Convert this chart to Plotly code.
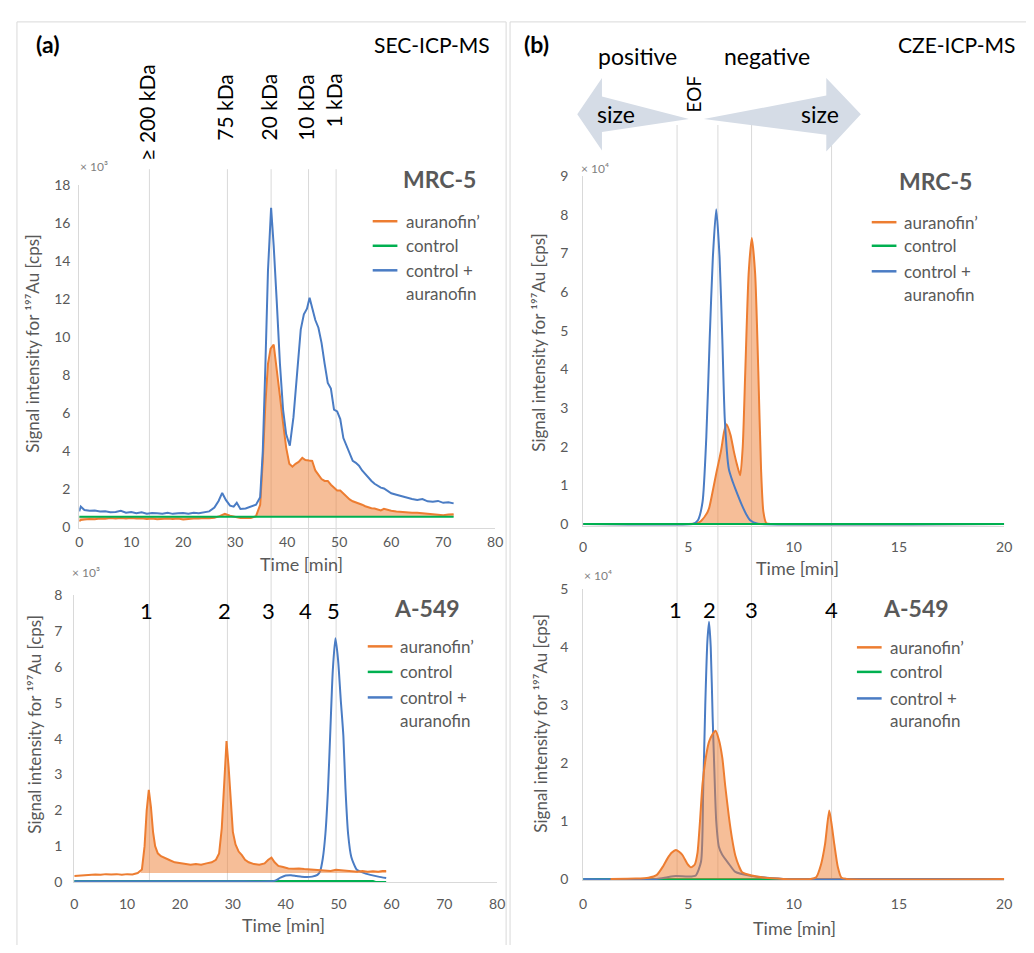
import plotly.graph_objects as go

# page body has an 8px margin; size the figure so the page fits the 1034x953 window
W, H = 1034, 953
FW, FH = W - 16, H - 16
def X(px): return (px - 8) / FW
def Y(py): return 1 - (py - 8) / FH

ORANGE = "#ED7D31"
FILL = "rgba(237,125,49,0.5)"
GREEN = "#00B050"
BLUE = "#4A7CC4"
GRAY = "#595959"
LINEGRAY = "#D9D9D9"
FONT = "Lato"

# ---------------- (a) SEC-ICP-MS, MRC-5 (x10^3 cps) ----------------
sec_mrc5_blue_t = [0, 0.3, 1, 2, 3, 4, 5, 6, 7, 8,
                   9, 10, 11, 12, 13, 14, 15, 16, 17, 18,
                   19, 20, 21, 22, 23, 24, 25, 26, 26.8, 27.5,
                   28.2, 29, 29.7, 30.3, 31, 32, 33, 34, 34.8, 35.3,
                   35.8, 36.3, 36.9, 37.4, 38, 38.6, 39.2, 39.8, 40.5, 41.2,
                   41.9, 42.6, 43.2, 43.8, 44.3, 44.8, 45.4, 46, 46.6, 47.2,
                   47.8, 48.4, 49, 49.6, 50.2, 50.8, 51.4, 52, 52.6, 53.2,
                   53.8, 54.4, 55, 55.6, 56.2, 56.8, 57.4, 58, 58.6, 59.2,
                   60, 61, 62, 63, 64, 65, 66, 67, 68, 69,
                   70, 71, 72]
sec_mrc5_blue_v = [0.85, 1.1, 0.92, 0.88, 0.9, 0.84, 0.86, 0.8, 0.82, 0.88,
                   0.78, 0.82, 0.75, 0.8, 0.73, 0.77, 0.75, 0.73, 0.78, 0.72,
                   0.75, 0.77, 0.73, 0.78, 0.75, 0.82, 0.85, 1.05, 1.4, 1.82,
                   1.45, 1.15, 1.1, 1.3, 0.98, 1.0, 1.1, 1.2, 1.6, 4.0,
                   8.5, 13.5, 16.8, 14.8, 11.8, 8.6, 6.2, 4.9, 4.3, 5.8,
                   8.1, 10.4, 11.2, 11.5, 12.07, 11.6, 10.9, 10.5, 9.7, 8.6,
                   7.6, 7.3, 6.2, 6.1, 5.7, 4.7, 4.3, 3.9, 3.5, 3.4,
                   3.25, 3.0, 2.8, 2.6, 2.45, 2.3, 2.2, 2.1, 2.05, 1.95,
                   1.8, 1.72, 1.65, 1.55, 1.5, 1.45, 1.5, 1.38, 1.36, 1.4,
                   1.3, 1.33, 1.27]

sec_mrc5_orange_t = [0, 0.3, 1, 2, 3, 4, 5, 6, 7, 8,
                     9, 10, 11, 12, 13, 14, 15, 16, 17, 18,
                     19, 20, 21, 22, 23, 24, 25, 26, 27, 28,
                     29, 30, 31, 32, 33, 34, 34.8, 35.3, 35.8, 36.3,
                     36.8, 37.4, 38, 38.6, 39.2, 39.8, 40.4, 41, 41.6, 42.2,
                     42.9, 43.5, 44.2, 44.8, 45.4, 46, 46.6, 47.2, 47.8, 48.4,
                     49, 49.6, 50.2, 50.8, 51.4, 52, 52.6, 53.2, 53.8, 54.4,
                     55, 55.6, 56.2, 56.8, 57.4, 58, 58.6, 59.2, 60, 61,
                     62, 63, 64, 65, 66, 67, 68, 69, 70, 71,
                     72]
sec_mrc5_orange_v = [0.33, 0.4, 0.42, 0.45, 0.44, 0.47, 0.46, 0.5, 0.47, 0.5,
                     0.48, 0.5, 0.47, 0.49, 0.45, 0.48, 0.44, 0.47, 0.48, 0.45,
                     0.47, 0.42, 0.46, 0.48, 0.47, 0.5, 0.49, 0.52, 0.6, 0.72,
                     0.62, 0.55, 0.5, 0.52, 0.5, 0.6, 1.2, 3.5, 6.5, 8.6,
                     9.4, 9.61, 8.4, 6.9, 5.5, 4.2, 3.35, 3.2, 3.35, 3.45,
                     3.66, 3.55, 3.52, 3.5, 3.0, 2.75, 2.55, 2.45, 2.45, 2.25,
                     2.1, 1.95, 1.95, 1.8, 1.6, 1.48, 1.38, 1.32, 1.3, 1.2,
                     1.12, 1.05, 1.02, 1.0, 0.95, 0.9, 0.98, 0.92, 0.88, 0.85,
                     0.82, 0.8, 0.78, 0.78, 0.75, 0.72, 0.68, 0.66, 0.65, 0.68,
                     0.7]

sec_mrc5_green_t = [0, 24, 48, 72]
sec_mrc5_green_v = [0.57, 0.57, 0.57, 0.57]

# ---------------- (a) SEC-ICP-MS, A-549 (x10^3 cps) ----------------
sec_a549_orange_t = [0, 1, 2, 3, 4, 5, 6, 7, 8, 9,
                     10, 11, 12, 12.8, 13.3, 13.7, 14.1, 14.5, 14.9, 15.3,
                     15.8, 16.4, 17, 17.6, 18.2, 19, 20, 21, 22, 23,
                     24, 25, 26, 26.8, 27.4, 27.9, 28.4, 28.8, 29.2, 29.6,
                     30, 30.5, 31.1, 31.7, 32.3, 33, 34, 35, 36, 36.7,
                     37.3, 37.9, 38.6, 39.5, 40.5, 41.5, 42.5, 43.5, 44.5, 45.5,
                     46.5, 47.5, 48.5, 49.5, 50.5, 51.5, 52.5, 53.5, 54.5, 55.5,
                     56.5, 57.5, 58.3, 59]
sec_a549_orange_v = [0.17, 0.18, 0.2, 0.19, 0.21, 0.2, 0.22, 0.21, 0.22, 0.2,
                     0.22, 0.21, 0.25, 0.35, 1.0, 2.0, 2.57, 2.1, 1.4, 1.0,
                     0.8, 0.72, 0.68, 0.62, 0.6, 0.55, 0.52, 0.5, 0.48, 0.5,
                     0.48, 0.52, 0.55, 0.62, 0.8, 1.5, 2.8, 3.93, 3.2, 2.2,
                     1.4, 1.05, 0.85, 0.75, 0.62, 0.55, 0.5, 0.48, 0.52, 0.62,
                     0.68, 0.55, 0.45, 0.42, 0.38, 0.37, 0.38, 0.36, 0.35, 0.33,
                     0.32, 0.33, 0.31, 0.34, 0.33, 0.3, 0.3, 0.29, 0.31, 0.29,
                     0.3, 0.29, 0.31, 0.31]
sec_a549_baseline_t = [12.5, 59]
sec_a549_baseline_v = [0.25, 0.25]

sec_a549_blue_t = [0, 10, 20, 30, 37, 38, 39, 40, 41, 42,
                   43, 44, 45, 46, 46.5, 47, 47.5, 48, 48.4, 48.9,
                   49.4, 49.9, 50.4, 50.9, 51.3, 51.8, 52.4, 53.4, 54.5, 56,
                   57.5, 59]
sec_a549_blue_v = [0.02, 0.02, 0.02, 0.02, 0.02, 0.04, 0.12, 0.18, 0.19, 0.17,
                   0.15, 0.14, 0.15, 0.2, 0.3, 0.65, 1.34, 2.6, 4.08, 5.9,
                   6.8, 6.2, 5.1, 4.08, 2.6, 1.34, 0.7, 0.35, 0.27, 0.2,
                   0.15, 0.11]

sec_a549_green_t = [0, 28, 56.5, 57, 59]
sec_a549_green_v = [0.03, 0.03, 0.03, 0.0, 0.0]

# ---------------- (b) CZE-ICP-MS, MRC-5 (x10^4 cps) ----------------
cze_mrc5_orange_t = [0, 5.0, 5.4, 5.6, 5.9, 6.0, 6.3, 6.55, 6.7, 6.81,
                     7.0, 7.15, 7.3, 7.46, 7.58, 7.7, 7.86, 8.01, 8.17, 8.32,
                     8.45, 8.56, 8.7, 9.0, 20]
cze_mrc5_orange_v = [0, 0, 0.02, 0.08, 0.3, 0.45, 1.25, 1.9, 2.4, 2.58,
                     2.3, 1.9, 1.55, 1.26, 2.0, 3.94, 6.47, 7.40, 6.47, 3.94,
                     1.42, 0.32, 0.02, 0, 0]
cze_mrc5_blue_t = [0, 5.2, 5.45, 5.67, 5.85, 6.01, 6.16, 6.32, 6.48, 6.61,
                   6.73, 6.92, 7.1, 7.23, 7.54, 7.75, 7.93, 8.3, 20]
cze_mrc5_blue_v = [0, 0, 0.1, 0.57, 2.26, 4.79, 6.89, 8.14, 6.89, 4.79,
                   2.68, 1.42, 1.1, 0.91, 0.49, 0.25, 0.1, 0.01, 0]
cze_mrc5_green_t = [0, 10, 20]
cze_mrc5_green_v = [0, 0, 0]

# ---------------- (b) CZE-ICP-MS, A-549 (x10^4 cps) ----------------
cze_a549_orange_t = [1.3, 2.5, 3.1, 3.5, 3.8, 4.0, 4.2, 4.41, 4.7, 4.95,
                     5.12, 5.3, 5.43, 5.55, 5.67, 5.85, 5.98, 6.15, 6.29, 6.45,
                     6.61, 6.75, 6.92, 7.07, 7.23, 7.4, 7.54, 8.0, 8.5, 9.0,
                     9.5, 10.8, 11.07, 11.3, 11.49, 11.69, 11.82, 11.93, 12.1, 12.27,
                     12.5, 20]
cze_a549_orange_v = [0, 0.005, 0.02, 0.07, 0.22, 0.35, 0.45, 0.50, 0.42, 0.26,
                     0.2, 0.25, 0.45, 1.0, 1.64, 2.15, 2.37, 2.5, 2.56, 2.4,
                     2.09, 1.6, 1.08, 0.7, 0.40, 0.22, 0.12, 0.06, 0.03, 0.01,
                     0, 0, 0.03, 0.25, 0.6, 1.18, 0.9, 0.6, 0.2, 0.02,
                     0, 0]
cze_a549_blue_t = [0, 3.5, 4.0, 4.41, 5.0, 5.35, 5.6, 5.7, 5.8, 5.9,
                   5.98, 6.06, 6.15, 6.23, 6.32, 6.45, 6.6, 6.92, 7.23, 8.0,
                   9.0, 9.5, 20]
cze_a549_blue_v = [0, 0, 0.03, 0.05, 0.04, 0.06, 0.3, 1.5, 3.0, 4.1,
                   4.44, 4.0, 2.8, 1.9, 1.0, 0.55, 0.42, 0.26, 0.12, 0.05,
                   0.01, 0, 0]
cze_a549_green_t = [0, 10, 20]
cze_a549_green_v = [0, 0, 0]

# marker positions (vertical guide lines)
sec_marker_t = [13.5, 28.5, 36.9, 44.1, 49.4]
sec_marker_labels = ["\u2265 200 kDa", "75 kDa", "20 kDa", "10 kDa", "1 kDa"]
sec_peak_labels = ["1", "2", "3", "4", "5"]
cze_marker_t = [4.46, 6.4, 8.0, 11.8]
cze_peak_labels = ["1", "2", "3", "4"]

legend_names = ["auranofin\u2019", "control", "control +", "auranofin"]
legend_colors = [ORANGE, GREEN, BLUE]

for lst in [(sec_mrc5_blue_t, sec_mrc5_blue_v), (sec_mrc5_orange_t, sec_mrc5_orange_v),
            (sec_a549_orange_t, sec_a549_orange_v), (sec_a549_blue_t, sec_a549_blue_v),
            (cze_mrc5_orange_t, cze_mrc5_orange_v), (cze_mrc5_blue_t, cze_mrc5_blue_v),
            (cze_a549_orange_t, cze_a549_orange_v), (cze_a549_blue_t, cze_a549_blue_v)]:
    assert len(lst[0]) == len(lst[1]), (len(lst[0]), len(lst[1]))

fig = go.Figure()

def line(x, y, color, xa, ya, **kw):
    return go.Scatter(x=x, y=y, mode="lines", line=dict(color=color, width=2, **kw.pop("lk", {})),
                      xaxis=xa, yaxis=ya, showlegend=False, hoverinfo="skip", **kw)

SPL = dict(shape="spline", smoothing=0.6)

# (a) MRC-5
fig.add_trace(go.Scatter(x=sec_mrc5_green_t, y=sec_mrc5_green_v, mode="lines", line=dict(width=0),
                         xaxis="x", yaxis="y", showlegend=False, hoverinfo="skip"))
fig.add_trace(line(sec_mrc5_orange_t, sec_mrc5_orange_v, ORANGE, "x", "y", fill="tonexty", fillcolor=FILL))
fig.add_trace(line(sec_mrc5_green_t, sec_mrc5_green_v, GREEN, "x", "y"))
fig.add_trace(line(sec_mrc5_blue_t, sec_mrc5_blue_v, BLUE, "x", "y"))

# (a) A-549
fig.add_trace(line(sec_a549_green_t, sec_a549_green_v, GREEN, "x2", "y2"))
fig.add_trace(line(sec_a549_blue_t, sec_a549_blue_v, BLUE, "x2", "y2", lk=SPL))
fig.add_trace(go.Scatter(x=sec_a549_baseline_t, y=sec_a549_baseline_v, mode="lines", line=dict(width=0),
                         xaxis="x2", yaxis="y2", showlegend=False, hoverinfo="skip"))
fill_t = [t for t in sec_a549_orange_t if t >= sec_a549_baseline_t[0]]
fill_v = [v for t, v in zip(sec_a549_orange_t, sec_a549_orange_v) if t >= sec_a549_baseline_t[0]]
fig.add_trace(go.Scatter(x=fill_t, y=fill_v, mode="lines", line=dict(width=0), fill="tonexty",
                         fillcolor=FILL, xaxis="x2", yaxis="y2", showlegend=False, hoverinfo="skip"))
fig.add_trace(line(sec_a549_orange_t, sec_a549_orange_v, ORANGE, "x2", "y2"))

# (b) MRC-5
fig.add_trace(line(cze_mrc5_orange_t, cze_mrc5_orange_v, ORANGE, "x3", "y3", fill="tozeroy",
                   fillcolor=FILL, lk=SPL))
fig.add_trace(line(cze_mrc5_blue_t, cze_mrc5_blue_v, BLUE, "x3", "y3", lk=SPL))
fig.add_trace(line(cze_mrc5_green_t, cze_mrc5_green_v, GREEN, "x3", "y3"))

# (b) A-549
fig.add_trace(line(cze_a549_green_t, cze_a549_green_v, GREEN, "x4", "y4"))
fig.add_trace(line(cze_a549_blue_t, cze_a549_blue_v, BLUE, "x4", "y4", lk=SPL))
fig.add_trace(line(cze_a549_orange_t, cze_a549_orange_v, ORANGE, "x4", "y4", fill="tozeroy",
                   fillcolor=FILL, lk=SPL))

def ax(dom, rng, dtick, anchor, standoff):
    return dict(domain=dom, range=rng, dtick=dtick, anchor=anchor, showline=True, linecolor=LINEGRAY,
                linewidth=1, showgrid=False, zeroline=False, ticks="", ticklabelstandoff=standoff,
                tickfont=dict(family=FONT, size=14, color=GRAY), fixedrange=True)

fig.update_layout(
    width=FW, height=FH, margin=dict(l=0, r=0, t=0, b=0),
    paper_bgcolor="white", plot_bgcolor="rgba(0,0,0,0)", showlegend=False,
    font=dict(family=FONT, color=GRAY),
    xaxis=ax([X(76), X(497)], [0, 80], 10, "y", 2),
    yaxis=ax([Y(528), Y(179)], [0, 18], 2, "x", 5),
    xaxis2=ax([X(71), X(499)], [0, 80], 10, "y2", 9),
    yaxis2=ax([Y(889), Y(597)], [0, 8], 1, "x2", 8),
    xaxis3=ax([X(586), X(1012)], [0, 20], 5, "y3", 9),
    yaxis3=ax([Y(526), Y(170)], [-0.04, 9], 1, "x3", 11),
    xaxis4=ax([X(586), X(1012)], [0, 20], 5, "y4", 11),
    yaxis4=ax([Y(887), Y(591)], [-0.02, 5], 1, "x4", 11),
)

shapes = []
# panel frames
shapes.append(dict(type="rect", xref="paper", yref="paper", x0=X(13), x1=X(508), y0=Y(990), y1=Y(13),
                   line=dict(color=LINEGRAY, width=1), layer="below"))
shapes.append(dict(type="rect", xref="paper", yref="paper", x0=X(512), x1=X(1060), y0=Y(990), y1=Y(13),
                   line=dict(color=LINEGRAY, width=1), layer="below"))
# vertical guide lines
for t in sec_marker_t:
    shapes.append(dict(type="line", xref="x", yref="paper", x0=t, x1=t, y0=Y(889), y1=Y(163),
                       line=dict(color=LINEGRAY, width=1), layer="below"))
for t in cze_marker_t:
    shapes.append(dict(type="line", xref="x3", yref="paper", x0=t, x1=t, y0=Y(887), y1=Y(118),
                       line=dict(color=LINEGRAY, width=1), layer="below"))

def poly(pts):
    return "M " + " L ".join(f"{X(a):.5f},{Y(b):.5f}" for a, b in pts) + " Z"

ARROW = "#D5DCE6"
shapes.append(dict(type="path", xref="paper", yref="paper", layer="below", fillcolor=ARROW,
                   line=dict(width=0),
                   path=poly([(580, 107), (605, 70), (605, 89), (693, 112), (605, 125), (605, 144)])))
shapes.append(dict(type="path", xref="paper", yref="paper", layer="below", fillcolor=ARROW,
                   line=dict(width=0),
                   path=poly([(708, 112), (832, 88), (832, 70), (867, 107), (832, 145), (832, 128)])))

ann = []
def txt(text, px, py, size, color="black", bold=False, angle=0, xanchor="center", yanchor="middle",
        xref="paper", x=None, xshift=0):
    if bold:
        text = f"<b>{text}</b>"
    ann.append(dict(text=text, xref=xref, yref="paper", x=X(px) if x is None else x, y=Y(py),
                    showarrow=False, textangle=angle, xanchor=xanchor, yanchor=yanchor, xshift=xshift,
                    font=dict(family=FONT, size=size, color=color)))

txt("(a)", 44, 36, 23, bold=True)
txt("SEC-ICP-MS", 494, 36, 21, xanchor="right")
txt("(b)", 539, 36, 23, bold=True)
txt("CZE-ICP-MS", 1025, 36, 21, xanchor="right")

# kDa labels
kda_centers = [105, 100, 100, 100, 93]
for t, lab, cy in zip(sec_marker_t, sec_marker_labels, kda_centers):
    txt(lab, 0, cy, 21, angle=-90, xref="x", x=t, xshift=-3)
# peak numbers
for t, lab in zip(sec_marker_t, sec_peak_labels):
    txt(lab, 0, 612, 22, xref="x", x=t, xshift=-3)
cze_shifts = [-2, -8, 0, 0]
for t, lab, s in zip(cze_marker_t, cze_peak_labels, cze_shifts):
    txt(lab, 0, 611, 22, xref="x3", x=t, xshift=s)

txt("positive", 641, 48, 23)
txt("negative", 772, 48, 23)
txt("size", 619, 107, 23)
txt("size", 826, 107, 23)
txt("EOF", 698, 86, 19, angle=-90)

txt("MRC-5", 441, 173, 23, color=GRAY, bold=True)
txt("MRC-5", 943, 175, 23, color=GRAY, bold=True)
txt("A-549", 428, 610, 23, color=GRAY, bold=True)
txt("A-549", 923, 610, 23, color=GRAY, bold=True)

txt("\u00d7 10\u00b3", 91, 160, 12, color="#7F7F7F")
txt("\u00d7 10\u00b3", 83, 574, 12, color="#7F7F7F")
txt("\u00d7 10\u2074", 598, 162, 12, color="#7F7F7F")
txt("\u00d7 10\u2074", 601, 577, 12, color="#7F7F7F")

ytitle = "Signal intensity for \u00b9\u2079\u2077Au [cps]"
txt(ytitle, 29, 340, 17, color=GRAY, angle=-90)
txt(ytitle, 31, 728, 17, color=GRAY, angle=-90)
txt(ytitle, 541, 339, 17, color=GRAY, angle=-90)
txt(ytitle, 543, 727, 17, color=GRAY, angle=-90)

txt("Time [min]", 301, 565, 18, color=GRAY)
txt("Time [min]", 283, 933, 18, color=GRAY)
txt("Time [min]", 803, 569, 18, color=GRAY)
txt("Time [min]", 800, 936, 18, color=GRAY)

def legend(xl, xt, rows):
    for c, yy in zip(legend_colors, rows[:3]):
        shapes.append(dict(type="line", xref="paper", yref="paper", x0=X(xl), x1=X(xl + 25),
                           y0=Y(yy), y1=Y(yy), line=dict(color=c, width=2.5)))
    for name, yy in zip(legend_names, rows):
        txt(name, xt, yy, 17, color=GRAY, xanchor="left")

legend(373, 405, [216, 241, 266, 290])
legend(368, 399, [649, 675, 701, 724])
legend(878, 909, [217, 241, 267, 291])
legend(863, 894, [650, 675, 702, 725])

fig.update_layout(shapes=shapes, annotations=ann)
fig.write_html("out.html")
